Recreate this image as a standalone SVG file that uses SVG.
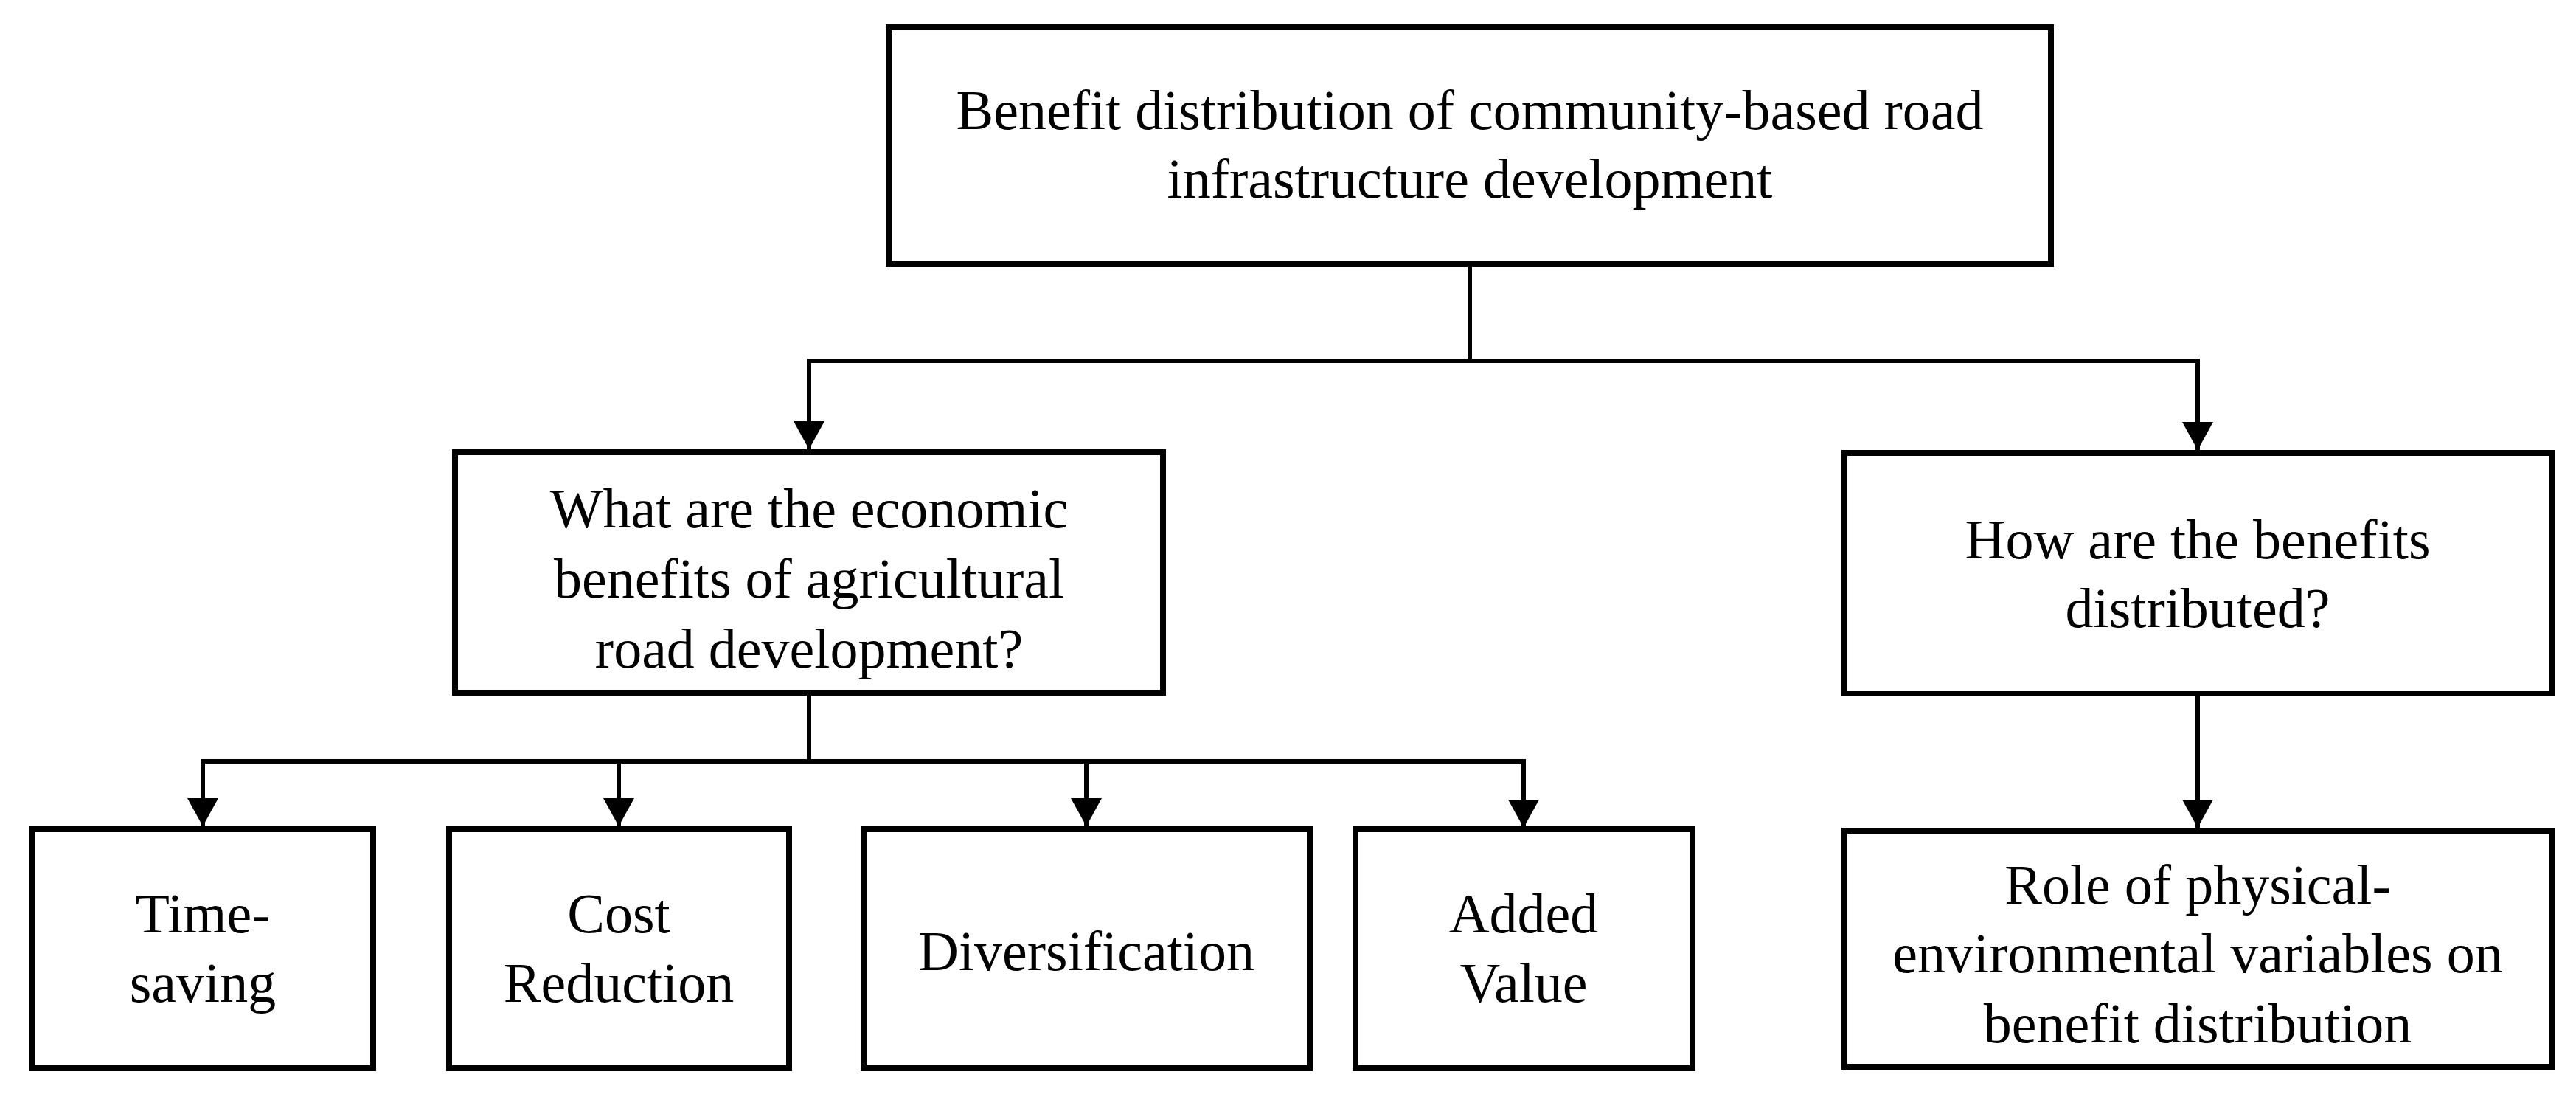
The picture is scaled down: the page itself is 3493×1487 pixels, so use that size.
<svg xmlns="http://www.w3.org/2000/svg" width="3493" height="1487" viewBox="0 0 3493 1487">
<style>
.box{fill:#fff;stroke:#000;stroke-width:8}
.lbl{font-family:"Liberation Serif","Times New Roman",serif;font-size:76px;fill:#000;text-anchor:middle}
.con{fill:none;stroke:#000;stroke-width:6}
</style>
<defs>
<marker id="ah" markerUnits="userSpaceOnUse" viewBox="0 0 38 42" refX="38" refY="21" markerWidth="38" markerHeight="42" orient="auto">
<path d="M0,0 L38,21 L0,42 Z" fill="#000"/>
</marker>
</defs>
<rect width="3493" height="1487" fill="#fff"/>
<g id="connectors">
<path class="con" d="M1993,362 V489"/>
<path class="con" d="M1097,489 H2980"/>
<path class="con" d="M1097,486 V609" marker-end="url(#ah)"/>
<path class="con" d="M2980,486 V610" marker-end="url(#ah)"/>
<path class="con" d="M1097,943 V1032"/>
<path class="con" d="M275,1032 H2066"/>
<path class="con" d="M275,1029 V1120" marker-end="url(#ah)"/>
<path class="con" d="M839,1032 V1120" marker-end="url(#ah)"/>
<path class="con" d="M1473,1032 V1120" marker-end="url(#ah)"/>
<path class="con" d="M2066,1029 V1122" marker-end="url(#ah)"/>
<path class="con" d="M2980,944 V1122" marker-end="url(#ah)"/>
</g>
<g id="root">
<rect class="box" x="1205" y="37" width="1576" height="321"/>
<text class="lbl" x="1993" y="175">Benefit distribution of community-based road</text>
<text class="lbl" x="1993" y="268">infrastructure development</text>
</g>
<g id="economic">
<rect class="box" x="617" y="613" width="960" height="326"/>
<text class="lbl" x="1097" y="715">What are the economic</text>
<text class="lbl" x="1097" y="810">benefits of agricultural</text>
<text class="lbl" x="1097" y="905">road development?</text>
</g>
<g id="distributed">
<rect class="box" x="2501" y="614" width="959" height="326"/>
<text class="lbl" x="2980" y="757">How are the benefits</text>
<text class="lbl" x="2980" y="850">distributed?</text>
</g>
<g id="time-saving">
<rect class="box" x="44" y="1124" width="462" height="324"/>
<text class="lbl" x="275" y="1264">Time-</text>
<text class="lbl" x="275" y="1358">saving</text>
</g>
<g id="cost-reduction">
<rect class="box" x="609" y="1124" width="461" height="324"/>
<text class="lbl" x="839" y="1264">Cost</text>
<text class="lbl" x="839" y="1358">Reduction</text>
</g>
<g id="diversification">
<rect class="box" x="1171" y="1124" width="605" height="324"/>
<text class="lbl" x="1473" y="1315">Diversification</text>
</g>
<g id="added-value">
<rect class="box" x="1838" y="1124" width="457" height="324"/>
<text class="lbl" x="2066" y="1264">Added</text>
<text class="lbl" x="2066" y="1358">Value</text>
</g>
<g id="role">
<rect class="box" x="2501" y="1126" width="959" height="320"/>
<text class="lbl" x="2980" y="1225">Role of physical-</text>
<text class="lbl" x="2980" y="1318">environmental variables on</text>
<text class="lbl" x="2980" y="1413">benefit distribution</text>
</g>
</svg>
